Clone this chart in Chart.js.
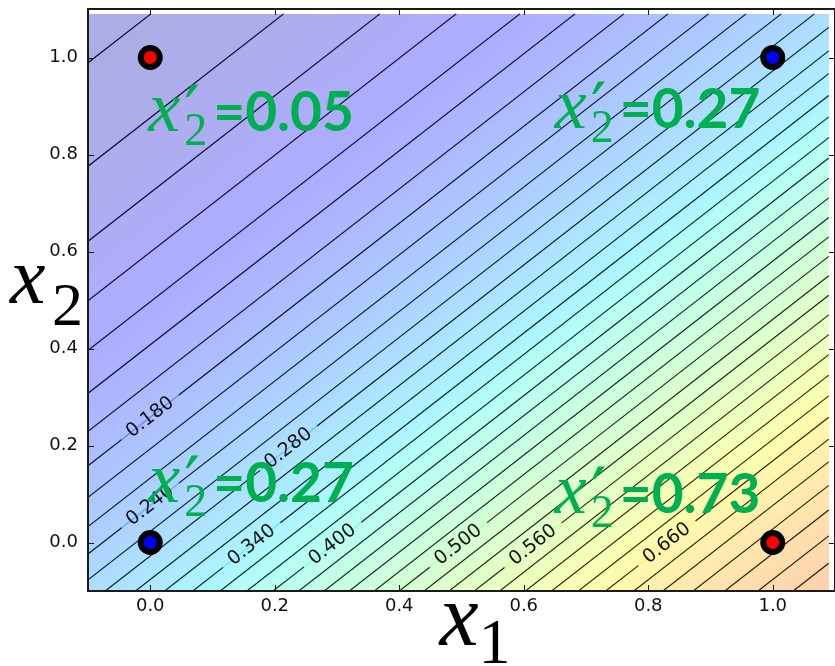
<!DOCTYPE html>
<html><head><meta charset="utf-8">
<script src="https://cdn.jsdelivr.net/npm/chart.js@4.4.1/dist/chart.umd.min.js"></script>
<style>html,body{margin:0;padding:0;overflow:hidden;background:#fff}canvas{display:block}</style>
</head><body>
<canvas id="c" width="837" height="666"></canvas>
<script>
// ---------- data ----------
const x1TickValues = [0.0, 0.2, 0.4, 0.6, 0.8, 1.0];
const x2TickValues = [0.0, 0.2, 0.4, 0.6, 0.8, 1.0];
const pointX1 = [0, 1, 0, 1];
const pointX2 = [0, 1, 1, 0];
const pointClass = ['blue', 'blue', 'red', 'red'];
const outputValues = ['0.27', '0.27', '0.05', '0.73'];
const weights = [2, -2];
const bias = -1;
const contourLevels = [0.04,0.06,0.08,0.10,0.12,0.14,0.16,0.18,0.20,0.22,0.24,0.26,0.28,0.30,0.32,0.34,0.36,0.38,0.40,
  0.42,0.44,0.46,0.48,0.50,0.52,0.54,0.56,0.58,0.60,0.62,0.64,0.66,0.68,0.70,0.72,0.74,0.76,0.78];
const labelledLevels = [0.18, 0.24, 0.28, 0.34, 0.40, 0.50, 0.56, 0.66];
const labelAtX1 = [0.0, 0.0, 0.222, 0.163, 0.293, 0.495, 0.615, 0.83];
const axisMin = -0.1, axisMax = 1.1;
const gridMin = -0.1, gridMax = 1.09;

// ---------- layout (positions, not data) ----------
const annotationAnchors = [ // left / baseline in data coordinates, one per point
  {x: 0.0, y: 0.0835}, {x: 0.653, y: 0.854}, {x: 0.0, y: 0.848}, {x: 0.653, y: 0.061}
];
const classColor = {blue: 'rgb(0,0,255)', red: 'rgb(255,0,0)'};
const GREEN = '#00B050';
const FILL_ALPHA = 0.32;

// ---------- helpers ----------
const sigmoid = z => 1 / (1 + Math.exp(-z));
const logit = p => Math.log(p / (1 - p));
const model = (a, b) => sigmoid(weights[0] * a + weights[1] * b + bias);
const x2At = (lv, x1) => (logit(lv) - bias - weights[0] * x1) / weights[1];
const x1At = (lv, x2) => (logit(lv) - bias - weights[1] * x2) / weights[0];
const R = [[0,0],[0.35,0],[0.66,1],[0.89,1],[1,0.5]];
const G = [[0,0],[0.125,0],[0.375,1],[0.64,1],[0.91,0],[1,0]];
const B = [[0,0.5],[0.11,1],[0.34,1],[0.65,0],[1,0]];
function seg(s, v) {
  for (let i = 1; i < s.length; i++) {
    if (v <= s[i][0]) { const t = (v - s[i-1][0]) / (s[i][0] - s[i-1][0]); return s[i-1][1] + t * (s[i][1] - s[i-1][1]); }
  }
  return s[s.length-1][1];
}
const jet = v => [seg(R, v), seg(G, v), seg(B, v)];

function lineRange(lv) {
  const a = x1At(lv, gridMin), b = x1At(lv, gridMax);
  const lo = Math.max(gridMin, Math.min(a, b)), hi = Math.min(gridMax, Math.max(a, b));
  return lo < hi ? [lo, hi] : null;
}
const pts = (lv, a, b) => [{x: a, y: x2At(lv, a)}, {x: b, y: x2At(lv, b)}];

const GAP_T = 0.046;
const datasets = [];
datasets.push({
  type: 'scatter', order: 0,
  data: pointX1.map((v, i) => ({x: v, y: pointX2[i]})),
  pointRadius: 9.5, pointHoverRadius: 9.5, borderWidth: 6, pointBorderColor: '#000',
  pointBackgroundColor: pointClass.map(c => classColor[c]), clip: false
});
contourLevels.forEach(lv => {
  const r = lineRange(lv); if (!r) return;
  const li = labelledLevels.findIndex(l => Math.abs(l - lv) < 1e-9);
  let parts = [r];
  if (li >= 0) {
    const xl = labelAtX1[li];
    parts = [[r[0], xl - GAP_T], [xl + GAP_T, r[1]]].filter(p => p[1] > p[0]);
  }
  parts.forEach(p => datasets.push({
    type: 'scatter', order: 1, showLine: true, data: pts(lv, p[0], p[1]),
    borderColor: 'rgba(0,0,0,0.85)', borderWidth: 1.1, pointRadius: 0, pointHoverRadius: 0
  }));
  const c = jet(lv);
  datasets.push({
    type: 'scatter', order: 2, showLine: true, data: pts(lv, r[0], r[1]),
    borderColor: `rgba(${Math.round(c[0]*255)},${Math.round(c[1]*255)},${Math.round(c[2]*255)},0.45)`,
    borderWidth: 1.2, pointRadius: 0, pointHoverRadius: 0
  });
});

// ---------- plugins ----------
const fieldPlugin = {
  id: 'field',
  beforeDatasetsDraw(chart) {
    const {ctx, scales: {x, y}} = chart;
    const px0 = Math.round(x.getPixelForValue(gridMin)), px1 = Math.round(x.getPixelForValue(gridMax));
    const py0 = Math.round(y.getPixelForValue(gridMax)), py1 = Math.round(y.getPixelForValue(gridMin));
    const w = px1 - px0, h = py1 - py0;
    const img = ctx.createImageData(w, h);
    for (let j = 0; j < h; j++) {
      const v2 = y.getValueForPixel(py0 + j + 0.5);
      for (let i = 0; i < w; i++) {
        const v1 = x.getValueForPixel(px0 + i + 0.5);
        const c = jet(model(v1, v2));
        const k = (j * w + i) * 4;
        img.data[k] = Math.round(255 * (1 - FILL_ALPHA) + c[0] * 255 * FILL_ALPHA);
        img.data[k+1] = Math.round(255 * (1 - FILL_ALPHA) + c[1] * 255 * FILL_ALPHA);
        img.data[k+2] = Math.round(255 * (1 - FILL_ALPHA) + c[2] * 255 * FILL_ALPHA);
        img.data[k+3] = 255;
      }
    }
    ctx.putImageData(img, px0, py0);
  }
};

const decoPlugin = {
  id: 'deco',
  afterDatasetsDraw(chart) {
    const {ctx, chartArea: a, scales: {x, y}} = chart;
    // contour labels
    ctx.save();
    ctx.fillStyle = '#111';
    ctx.font = '19px "DejaVu Sans"';
    ctx.textAlign = 'center'; ctx.textBaseline = 'middle';
    labelledLevels.forEach((lv, i) => {
      const x1 = labelAtX1[i], x2 = x2At(lv, x1);
      const p = {x: x.getPixelForValue(x1), y: y.getPixelForValue(x2)};
      const q = {x: x.getPixelForValue(x1 + 0.1), y: y.getPixelForValue(x2At(lv, x1 + 0.1))};
      const ang = Math.atan2(q.y - p.y, q.x - p.x);
      ctx.save(); ctx.translate(p.x, p.y); ctx.rotate(ang);
      ctx.fillText(lv.toFixed(3), 0, 0);
      ctx.restore();
    });
    ctx.restore();
    // frame and inward ticks
    ctx.save();
    ctx.strokeStyle = '#111'; ctx.lineWidth = 1;
    ctx.beginPath();
    x.ticks.forEach(t => { const px = Math.round(x.getPixelForValue(t.value)) + 0.5;
      ctx.moveTo(px, a.bottom); ctx.lineTo(px, a.bottom - 6); ctx.moveTo(px, a.top); ctx.lineTo(px, a.top + 6); });
    y.ticks.forEach(t => { const py = Math.round(y.getPixelForValue(t.value)) + 0.5;
      ctx.moveTo(a.left, py); ctx.lineTo(a.left + 6, py); ctx.moveTo(a.right, py); ctx.lineTo(a.right - 6, py); });
    ctx.stroke();
    ctx.lineWidth = 2; ctx.strokeStyle = '#1a1a1a';
    ctx.strokeRect(a.left, a.top, a.right - a.left, a.bottom - a.top);
    ctx.restore();
  },
  afterDraw(chart) {
    const {ctx, chartArea: a, scales: {x, y}} = chart;
    ctx.save();
    ctx.textAlign = 'left'; ctx.textBaseline = 'alphabetic';
    // axis titles
    ctx.fillStyle = '#000';
    const cx = (a.left + a.right) / 2, cy = (a.top + a.bottom) / 2;
    ctx.font = 'italic 88px "Liberation Serif"'; ctx.fillText('x', cx - 22, a.bottom + 54);
    ctx.font = '64px "Liberation Serif"'; ctx.fillText('1', cx + 17, a.bottom + 72);
    ctx.font = 'italic 80px "Liberation Serif"'; ctx.fillText('x', a.left - 78, cy + 3);
    ctx.font = '62px "Liberation Serif"'; ctx.fillText('2', a.left - 36, cy + 25);
    // annotations
    ctx.fillStyle = GREEN;
    annotationAnchors.forEach((an, i) => {
      const L = x.getPixelForValue(an.x), base = y.getPixelForValue(an.y);
      ctx.font = 'italic 72px "Liberation Serif"'; ctx.fillText('x', L - 2, base);
      ctx.font = '70px "DejaVu Sans"'; ctx.fillText('\u2032', L + 34, base + 4);
      ctx.font = '46px "Liberation Serif"'; ctx.fillText('2', L + 34, base + 14);
      ctx.font = 'bold 55px Lato'; ctx.fillText('=' + outputValues[i], L + 63, base);
    });
    ctx.restore();
  }
};

new Chart(document.getElementById('c'), {
  type: 'scatter',
  data: {datasets},
  options: {
    responsive: false, animation: false, events: [],
    layout: {autoPadding: false, padding: {top: 9, right: 2, left: 0, bottom: 0}},
    plugins: {legend: {display: false}, tooltip: {enabled: false}},
    scales: {
      x: {type: 'linear', min: axisMin, max: axisMax,
        grid: {display: false, drawTicks: false}, border: {display: false},
        afterBuildTicks: s => { s.ticks = x1TickValues.map(v => ({value: v})); },
        afterFit: s => { s.height = 75; s.paddingLeft = 0; s.paddingRight = 0; s.paddingTop = 0; s.paddingBottom = 0; },
        ticks: {font: {family: 'DejaVu Sans', size: 18}, color: '#111', padding: 5, autoSkip: false, maxRotation: 0,
          callback: v => Number(v).toFixed(1)}},
      y: {type: 'linear', min: axisMin, max: axisMax,
        grid: {display: false, drawTicks: false}, border: {display: false},
        afterBuildTicks: s => { s.ticks = x2TickValues.map(v => ({value: v})); },
        afterFit: s => { s.width = 88; s.paddingLeft = 0; s.paddingRight = 0; s.paddingTop = 0; s.paddingBottom = 0; },
        ticks: {font: {family: 'DejaVu Sans', size: 18}, color: '#111', padding: 10, autoSkip: false,
          callback: v => Number(v).toFixed(1)}}
    }
  },
  plugins: [fieldPlugin, decoPlugin]
});
</script>
</body></html>
